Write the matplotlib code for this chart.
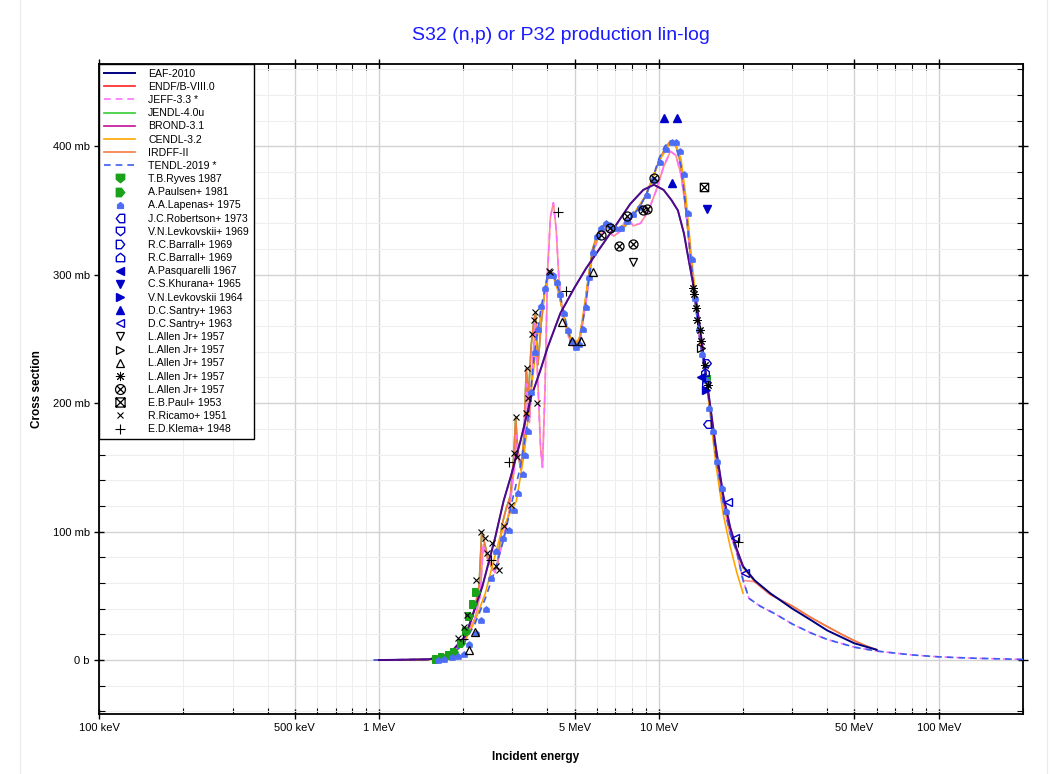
import matplotlib
matplotlib.use("Agg")
import matplotlib.pyplot as plt
from matplotlib.path import Path
from matplotlib.lines import Line2D
from matplotlib.ticker import FixedLocator, NullFormatter

# ---- evaluated curves (energy in MeV, cross section in mb) ----
E_eaf = [1.0, 1.5, 1.76, 2.04, 2.34, 2.6, 2.79, 2.96, 3.2, 3.5, 3.78, 4.0, 4.45, 5.0, 5.5,
         6.0, 7.0, 7.9, 8.8, 9.6, 10.4, 11.1, 11.7, 12.3, 12.6, 13.2, 13.7, 14.2, 15.0, 16.0,
         17.0, 18.0, 19.0, 20.0, 22.0, 25.0, 30.0, 35.0, 40.0, 50.0, 60.0]
sig_eaf = [0, 0.5, 3, 19, 57, 95, 124, 143, 170, 205, 226, 243, 270, 290, 305,
           317, 338, 355, 366, 370, 366, 358, 350, 332, 319, 295, 275, 250, 210, 165,
           128, 103, 86, 73, 62, 52, 40, 31, 23, 13, 8]

E_irdff = [0.96, 1.2, 1.5, 1.7, 1.85, 2.0, 2.1, 2.2, 2.28, 2.33, 2.38, 2.45, 2.55, 2.65, 2.75,
           2.85, 2.95, 3.03, 3.08, 3.14, 3.22, 3.3, 3.36, 3.42, 3.5, 3.58, 3.63, 3.7, 3.8, 3.9,
           4.0, 4.1, 4.2, 4.35, 4.5, 4.7, 4.9, 5.05, 5.2, 5.4, 5.6, 5.8, 6.0, 6.3, 6.6,
           6.9, 7.2, 7.6, 8.0, 8.5, 9.0, 9.5, 10.0, 10.5, 11.0, 11.4, 11.8, 12.2, 12.6, 13.0,
           13.5, 14.0, 14.5, 15.0, 15.5, 16.0, 17.0, 18.0, 19.0, 20.0, 22.0, 25.0, 30.0, 35.0, 40.0,
           45.0, 50.0, 55.0, 60.0]
sig_irdff = [0, 0, 0.5, 3, 8, 16, 25, 40, 58, 100, 92, 80, 70, 74, 105,
             118, 128, 158, 189, 160, 148, 175, 227, 205, 245, 265, 270, 230, 262, 285,
             300, 303, 300, 290, 275, 258, 248, 245, 250, 270, 298, 320, 330, 338, 340,
             337, 335, 338, 345, 352, 362, 375, 388, 398, 404, 403, 393, 372, 342, 312,
             278, 252, 230, 208, 183, 158, 124, 100, 85, 72, 61, 51, 42, 33, 26,
             20, 15, 11, 8]

E_jeff = [0.96, 1.5, 1.8, 2.0, 2.2, 2.3, 2.36, 2.45, 2.6, 2.75, 2.9, 3.05, 3.1, 3.2, 3.3,
          3.37, 3.45, 3.55, 3.62, 3.7, 3.78, 3.84, 3.92, 4.0, 4.1, 4.2, 4.3, 4.4, 4.55, 4.75,
          5.0, 5.2, 5.5, 5.8, 6.1, 6.5, 6.9, 7.3, 7.7, 8.1, 8.6, 9.2, 9.8, 10.4, 11.0,
          11.5, 12.0, 12.5, 13.0, 13.5, 14.0, 15.0, 16.0, 17.0, 18.0, 19.0, 20.0, 21.0, 23.0, 26.0,
          30.0, 35.0, 40.0, 50.0, 60.0, 80.0, 100.0, 130.0, 160.0, 200.0]
sig_jeff = [0, 0.5, 5, 14, 32, 50, 90, 78, 68, 90, 112, 150, 175, 150, 165,
            215, 185, 235, 262, 215, 165, 150, 210, 300, 345, 356, 335, 295, 268, 252,
            242, 246, 280, 316, 330, 335, 330, 334, 345, 338, 340, 350, 366, 384, 396,
            393, 378, 350, 312, 278, 250, 207, 158, 122, 98, 84, 62, 48, 42, 36,
            28, 21, 16, 10, 7, 4, 2.5, 1.5, 1, 0.5]

E_endf_tail = [22.0, 25.0, 30.0, 35.0, 40.0, 45.0, 50.0, 55.0, 60.0]
sig_endf_tail = [61, 51, 42, 33, 26, 20, 15, 11, 8]

E_cendl = [0.96, 1.5, 1.8, 2.0, 2.2, 2.4, 2.54, 2.7, 2.9, 3.1, 3.3, 3.5, 3.7, 3.85, 4.0,
           4.1, 4.2, 4.4, 4.6, 4.8, 5.0, 5.2, 5.5, 5.8, 6.1, 6.5, 7.0, 7.5, 8.0, 9.0,
           10.0, 11.0, 11.5, 12.0, 12.5, 13.0, 13.5, 14.0, 15.0, 16.0, 17.0, 18.0, 19.0, 20.0]
sig_cendl = [0, 0.3, 3, 12, 30, 52, 73, 95, 112, 124, 160, 210, 255, 278, 296,
             300, 298, 285, 265, 252, 247, 250, 285, 318, 332, 340, 336, 338, 345, 362,
             388, 403, 401, 390, 360, 320, 285, 255, 205, 152, 113, 88, 68, 52]

E_tendl = [0.96, 1.5, 1.8, 2.0, 2.2, 2.4, 2.6, 2.8, 3.0, 3.2, 3.4, 3.6, 3.8, 4.0, 4.2,
           4.4, 4.6, 4.8, 5.0, 5.2, 5.5, 5.8, 6.1, 6.5, 7.0, 7.5, 8.0, 8.5, 9.0, 9.5,
           10.0, 10.5, 11.0, 11.5, 12.0, 12.5, 13.0, 13.5, 14.0, 15.0, 16.0, 17.0, 18.0, 19.0, 20.0,
           21.0, 23.0, 26.0, 30.0, 35.0, 40.0, 50.0, 60.0, 80.0, 100.0, 130.0, 160.0, 200.0]
sig_tendl = [0, 0.5, 4, 12, 28, 48, 70, 95, 125, 150, 185, 240, 275, 298, 300,
             288, 268, 252, 244, 246, 280, 318, 334, 341, 336, 337, 345, 352, 362, 375,
             390, 400, 404, 400, 385, 352, 313, 278, 250, 207, 158, 122, 98, 84, 62,
             48, 42, 36, 28, 21, 16, 10, 7, 4, 2.5, 1.5, 1, 0.5]

# ---- experimental data (MeV, mb) ----
E_ryves = [14.8]
sig_ryves = [219]
E_paulsen = [1.6, 1.68, 1.78, 1.86, 1.97, 2.04, 2.1, 2.16, 2.22]
sig_paulsen = [0.5, 2, 4, 6.5, 13, 23, 34, 44, 53]
E_lapenas = [1.62, 1.71, 1.82, 1.92, 2.01, 2.10, 2.22, 2.31, 2.42, 2.51, 2.62, 2.78, 2.92, 3.04, 3.15,
             3.26, 3.33, 3.4, 3.5, 3.6, 3.7, 3.8, 3.93, 4.05, 4.2, 4.33, 4.45, 4.6, 4.75, 4.9,
             5.05, 5.2, 5.35, 5.5, 5.65, 5.8, 6.0, 6.2, 6.45, 6.7, 7.0, 7.3, 7.7, 8.1, 8.6,
             9.1, 9.6, 10.1, 10.6, 11.1, 11.5, 11.9, 12.3, 12.7, 13.1, 13.5, 13.9, 14.3, 14.7, 15.1,
             15.6, 16.2, 16.8, 17.4]
sig_lapenas = [0, 0.5, 2, 3, 5, 12.5, 21, 31, 40, 64, 85, 95, 101, 117, 130,
               145, 160, 178, 209, 240, 258, 276, 290, 300, 300, 294, 285, 270, 257, 248,
               244, 246, 258, 275, 298, 318, 330, 336, 340, 339, 336, 336, 342, 347, 353,
               362, 374, 388, 398, 403, 403, 396, 378, 348, 312, 282, 258, 238, 218, 196,
               178, 155, 134, 116]
E_robertson = [14.9]
sig_robertson = [184]
E_levk69 = [14.7]
sig_levk69 = [214]
E_barrall_r = [14.9]
sig_barrall_r = [231]
E_barrall_u = [14.6]
sig_barrall_u = [224]
E_pasq = [14.1]
sig_pasq = [220]
E_khurana = [14.9]
sig_khurana = [351]
E_levk64 = [14.8]
sig_levk64 = [210]
E_santry = [10.45, 11.1, 11.66]
sig_santry = [422, 371, 422]
E_santry_o = [17.6, 18.7, 20.3]
sig_santry_o = [123, 95, 68]
E_allen_d = [8.1]
sig_allen_d = [310]
E_allen_r = [14.1]
sig_allen_r = [243]
E_allen_u = [2.1, 2.2, 4.5, 4.9, 5.26, 5.8]
sig_allen_u = [8, 22, 263, 248, 248, 302]
E_allen_ast = [13.3, 13.4, 13.6, 13.7, 14.0, 14.2, 14.6, 15.0]
sig_allen_ast = [290, 285, 274, 265, 257, 248, 230, 214]
E_allen_cx = [6.2, 6.7, 7.2, 7.7, 8.1, 8.8, 9.1, 9.6]
sig_allen_cx = [331, 336, 322, 346, 324, 350, 351, 375]
E_paul = [14.5]
sig_paul = [368]
E_ricamo = [1.92, 2.02, 2.06, 2.22, 2.31, 2.40, 2.44, 2.54, 2.62, 2.68, 2.8, 2.96, 3.04, 3.1, 3.12,
            3.34, 3.37, 3.42, 3.53, 3.58, 3.61, 3.68, 4.04, 4.1]
sig_ricamo = [17, 26, 35, 62, 100, 95, 83, 91, 73, 70, 104, 121, 161, 189, 158,
              192, 227, 204, 254, 265, 271, 200, 303, 302]
E_klema = [2.0, 2.51, 2.92, 4.36, 4.65, 19.2]
sig_klema = [16, 78, 154, 349, 287, 92]

x_ticks = [0.1, 0.5, 1, 5, 10, 50, 100]
x_labels = ["100 keV", "500 keV", "1 MeV", "5 MeV", "10 MeV", "50 MeV", "100 MeV"]
x_minor = [0.2, 0.3, 0.4, 0.6, 0.7, 0.8, 0.9, 2, 3, 4, 6, 7, 8, 9,
           20, 30, 40, 60, 70, 80, 90, 200]
y_ticks = [0, 100, 200, 300, 400]
y_labels = ["0 b", "100 mb", "200 mb", "300 mb", "400 mb"]


def closed(verts):
    """Closed marker path from a list of vertices."""
    codes = [Path.MOVETO] + [Path.LINETO] * (len(verts) - 1) + [Path.CLOSEPOLY]
    return Path(verts + [verts[0]], codes)


# ---- marker shapes ----
house_up = closed([(-1, -1), (1, -1), (1, 0.2), (0, 1), (-1, 0.2)])
shield_down = closed([(-1, 1), (1, 1), (1, -0.2), (0, -1), (-1, -0.2)])
arrow_right = closed([(-1, -1), (0.2, -1), (1, 0), (0.2, 1), (-1, 1)])
arrow_left = closed([(1, -1), (-0.2, -1), (-1, 0), (-0.2, 1), (1, 1)])
circle_x = Path.make_compound_path(
    Path.unit_circle(),
    Path([(-0.7, -0.7), (0.7, 0.7)]),
    Path([(-0.7, 0.7), (0.7, -0.7)]))
square_x = Path.make_compound_path(
    closed([(-1, -1), (1, -1), (1, 1), (-1, 1)]),
    Path([(-1, -1), (1, 1)]),
    Path([(-1, 1), (1, -1)]))

plt.rcParams["font.family"] = ["Liberation Sans", "DejaVu Sans"]

fig = plt.figure(figsize=(10.53, 7.74), dpi=100)
ax = fig.add_axes([99 / 1053, 1 - 714 / 774, 924 / 1053, 650 / 774])

BLUE = "#0000c8"
LBLUE = "#4d6df5"
GREEN = "#1aa31a"

# curves (legend order), zorder handles layering
ax.plot(E_eaf, sig_eaf, color="#000080", lw=1.4, label="EAF-2010", zorder=6)
ax.plot(E_jeff[:57] + E_endf_tail, sig_jeff[:57] + sig_endf_tail, color="#ff2020", lw=1.2,
        alpha=0.5, label="ENDF/B-VIII.0", zorder=3)
ax.plot(E_jeff, sig_jeff, color="#ff70ff", lw=1.2, ls=(0, (4, 3)), label="JEFF-3.3 *", zorder=4)
ax.plot(E_irdff[:70], sig_irdff[:70], color="#33cc33", lw=1.2, label="JENDL-4.0u", zorder=2)
ax.plot(E_eaf[:34], sig_eaf[:34], color="#c0109a", lw=1.2, alpha=0.45, label="BROND-3.1", zorder=7)
ax.plot(E_cendl, sig_cendl, color="#ffa500", lw=1.2, label="CENDL-3.2", zorder=4)
ax.plot(E_irdff, sig_irdff, color="#f47a40", lw=1.2, label="IRDFF-II", zorder=3)
ax.plot(E_tendl, sig_tendl, color="#3a5ff0", lw=1.2, ls=(0, (4, 3)), label="TENDL-2019 *", zorder=4)

ms = 5.5
pts = dict(ls="none", zorder=8)
ax.plot(E_ryves, sig_ryves, marker=shield_down, ms=ms, color=GREEN, label="T.B.Ryves 1987", **pts)
ax.plot(E_paulsen, sig_paulsen, marker=arrow_right, ms=ms, color=GREEN, label="A.Paulsen+ 1981", **pts)
ax.plot(E_lapenas, sig_lapenas, marker=house_up, ms=3.8, color=LBLUE, label="A.A.Lapenas+ 1975", **pts)
ax.plot(E_robertson, sig_robertson, marker=arrow_left, ms=ms, color=BLUE, mfc="none", mew=1,
        label="J.C.Robertson+ 1973", **pts)
ax.plot(E_levk69, sig_levk69, marker=shield_down, ms=ms, color=BLUE, mfc="none", mew=1,
        label="V.N.Levkovskii+ 1969", **pts)
ax.plot(E_barrall_r, sig_barrall_r, marker=arrow_right, ms=ms, color=BLUE, mfc="none", mew=1,
        label="R.C.Barrall+ 1969", **pts)
ax.plot(E_barrall_u, sig_barrall_u, marker=house_up, ms=ms, color=BLUE, mfc="none", mew=1,
        label="R.C.Barrall+ 1969", **pts)
ax.plot(E_pasq, sig_pasq, marker="<", ms=ms, color=BLUE, label="A.Pasquarelli 1967", **pts)
ax.plot(E_khurana, sig_khurana, marker="v", ms=ms, color=BLUE, label="C.S.Khurana+ 1965", **pts)
ax.plot(E_levk64, sig_levk64, marker=">", ms=ms, color=BLUE, label="V.N.Levkovskii 1964", **pts)
ax.plot(E_santry, sig_santry, marker="^", ms=ms, color=BLUE, label="D.C.Santry+ 1963", **pts)
ax.plot(E_santry_o, sig_santry_o, marker="<", ms=ms, color=BLUE, mfc="none", mew=1,
        label="D.C.Santry+ 1963", **pts)
ax.plot(E_allen_d, sig_allen_d, marker="v", ms=ms, color="black", mfc="none", mew=0.9,
        label="L.Allen Jr+ 1957", **pts)
ax.plot(E_allen_r, sig_allen_r, marker=">", ms=ms, color="black", mfc="none", mew=0.9,
        label="L.Allen Jr+ 1957", **pts)
ax.plot(E_allen_u, sig_allen_u, marker="^", ms=ms, color="black", mfc="none", mew=0.9,
        label="L.Allen Jr+ 1957", **pts)
ax.plot(E_allen_ast, sig_allen_ast, marker=(8, 2, 0), ms=ms + 0.5, color="black", mew=0.7,
        label="L.Allen Jr+ 1957", **pts)
ax.plot(E_allen_cx, sig_allen_cx, marker=circle_x, ms=ms + 1, color="black", mfc="none", mew=0.9,
        label="L.Allen Jr+ 1957", **pts)
ax.plot(E_paul, sig_paul, marker=square_x, ms=ms + 0.5, color="black", mfc="none", mew=0.9,
        label="E.B.Paul+ 1953", **pts)
ax.plot(E_ricamo, sig_ricamo, marker="x", ms=ms - 1, color="black", mew=0.8,
        label="R.Ricamo+ 1951", **pts)
ax.plot(E_klema, sig_klema, marker="+", ms=ms + 1.5, color="black", mew=0.8,
        label="E.D.Klema+ 1948", **pts)

# axes
ax.set_xscale("log")
ax.set_xlim(0.1, 200)
ax.set_ylim(-42, 464)
ax.set_xticks(x_ticks, x_labels)
ax.xaxis.set_minor_locator(FixedLocator(x_minor))
ax.xaxis.set_minor_formatter(NullFormatter())
ax.set_yticks(y_ticks, y_labels)
ax.set_yticks(range(-40, 461, 20), minor=True)
ax.tick_params(which="major", direction="inout", length=7, width=1, labelsize=8,
               top=True, right=True, pad=3)
ax.tick_params(which="minor", direction="in", length=4, width=0.8, top=True, right=True)
ax.grid(which="major", color="#d2d2d2", lw=1)
ax.grid(which="minor", color="#eeeeee", lw=0.8)
ax.set_axisbelow(True)
for sp in ax.spines.values():
    sp.set_linewidth(1.3)

leg = ax.legend(loc="upper left", borderaxespad=0, fontsize=7.6, labelspacing=0.3,
                handlelength=3.0, handletextpad=1.2, borderpad=0.45, fancybox=False,
                edgecolor="black", framealpha=1, numpoints=1, markerscale=1.1)
leg.get_frame().set_linewidth(1.0)
leg.set_zorder(20)
for h in leg.legend_handles[:8]:
    h.set_alpha(1)

fig.text(561 / 1053, 1 - 35 / 774, "S32 (n,p) or P32 production lin-log", color="#1a1aff",
         fontsize=14, ha="center", va="center")
fig.text(37 / 1053, 1 - 389 / 774, "Cross section", rotation=90, fontsize=8.5,
         fontweight="bold", ha="center", va="center")
fig.text(536 / 1053, 1 - 757 / 774, "Incident energy", fontsize=8.5,
         fontweight="bold", ha="center", va="center")

# light frame lines at figure sides
fig.add_artist(Line2D([20 / 1053, 20 / 1053], [0, 1], transform=fig.transFigure,
                      color="#ececec", lw=1))
fig.add_artist(Line2D([1047 / 1053, 1047 / 1053], [0, 1], transform=fig.transFigure,
                      color="#ececec", lw=1))

fig.savefig("out.png", dpi=100)
